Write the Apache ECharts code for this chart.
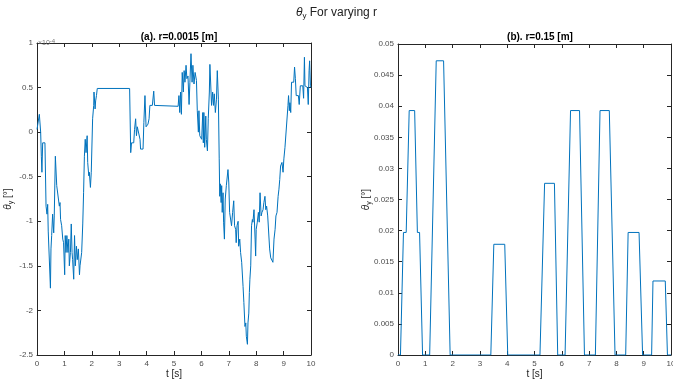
<!DOCTYPE html>
<html>
<head>
<meta charset="utf-8">
<script src="https://cdn.jsdelivr.net/npm/echarts@6/dist/echarts.min.js"></script>
<style>html,body{margin:0;padding:0;background:#fff}#c{width:673px;height:380px}</style>
</head>
<body>
<div id="c"></div>
<script>
// (a) r = 0.0015 m : time [s] and theta_y in units of 1e-4 deg
var tA = [0,0.02,0.06,0.085,0.12,0.134,0.158,0.18,0.207,0.29,0.33,0.365,0.39,0.41,0.45,0.49,0.51,0.535,0.57,0.61,0.63,0.67,0.72,0.78,0.815,0.84,0.86,0.9,0.94,0.97,1.01,1.03,1.06,1.09,1.13,1.16,1.18,1.22,1.25,1.28,1.30,1.34,1.37,1.4,1.44,1.47,1.51,1.55,1.57,1.61,1.63,1.67,1.70,1.73,1.76,1.79,1.83,1.85,1.89,1.91,1.95,1.98,2.03,2.07,2.08,2.12,2.14,2.17,2.2,3.38,3.42,3.45,3.53,3.56,3.6,3.63,3.66,3.72,3.76,3.78,3.87,3.9,3.94,3.98,4.05,4.09,4.12,4.21,4.26,4.29,4.33,5.15,5.18,5.21,5.24,5.27,5.3,5.34,5.37,5.4,5.44,5.47,5.51,5.55,5.58,5.62,5.66,5.69,5.73,5.77,5.82,5.85,5.89,5.91,5.94,5.97,6.01,6.05,6.07,6.09,6.12,6.16,6.18,6.22,6.25,6.29,6.31,6.34,6.37,6.41,6.44,6.47,6.51,6.55,6.58,6.62,6.65,6.67,6.69,6.72,6.74,6.76,6.79,6.81,6.84,6.87,6.91,6.97,7.0,7.03,7.07,7.1,7.14,7.18,7.21,7.25,7.27,7.3,7.34,7.36,7.4,7.43,7.47,7.52,7.55,7.59,7.62,7.64,7.68,7.7,7.73,7.75,7.77,7.8,7.83,7.86,7.88,7.92,7.96,7.98,8.0,8.04,8.08,8.11,8.14,8.18,8.21,8.25,8.28,8.32,8.35,8.38,8.42,8.46,8.49,8.53,8.61,8.65,8.69,8.72,8.76,8.8,8.83,8.86,8.89,8.94,8.98,9.01,9.05,9.12,9.16,9.18,9.21,9.23,9.26,9.29,9.37,9.4,9.43,9.46,9.54,9.57,9.61,9.7,9.73,9.76,9.78,9.87,9.9,9.93,9.95,9.98,10];
var vA = [0.03,0.015,0.015,0.2,0.18,0,-0.27,-0.45,-0.12,-0.12,-0.83,-0.92,-0.81,-1.11,-1.13,-1.75,-1.31,-1.16,-0.92,-1.13,-0.94,-0.27,-0.6,-0.6,-0.83,-0.79,-0.98,-1.05,-1.2,-1.24,-1.6,-1.16,-1.35,-1.16,-1.35,-1.2,-1.5,-1.35,-1.03,-1.35,-1.43,-1.65,-1.16,-1.5,-1.28,-1.43,-1.31,-1.6,-1.5,-1.5,-1.35,-1.03,-0.68,-0.27,-0.08,-0.23,-0.04,-0.34,-0.49,-0.45,-0.62,-0.45,0.15,0.3,0.45,0.26,0.35,0.41,0.49,0.49,-0.23,-0.12,-0.12,0.03,0.15,-0.04,0.06,0.06,-0.08,-0.19,-0.19,0.11,0.41,0.06,0.09,0.15,0.3,0.3,0.46,0.3,0.29,0.29,0.41,0.22,0.45,0.2,0.67,0.45,0.69,0.56,0.75,0.6,0.63,0.31,0.56,0.88,0.56,0.75,0.54,0.67,0.58,0.24,0,0.24,-0.04,-0.06,-0.08,0.22,-0.12,0.22,-0.17,0.18,-0.08,-0.21,0.15,0.45,0.76,0.54,0.3,0.45,0.3,0.43,0.22,0.37,0.69,0.37,-0.3,-0.72,-0.58,-0.79,-0.6,-0.9,-0.68,-1.01,-1.2,-0.75,-0.6,-0.42,-0.57,-0.9,-0.92,-1.05,-0.9,-0.77,-1.05,-1.09,-1.24,-1.05,-1.0,-1.28,-1.2,-1.35,-1.46,-1.73,-1.91,-2.18,-2.14,-2.29,-2.38,-2.14,-2.03,-1.8,-1.65,-1.5,-1.05,-0.98,-1.01,-0.87,-1.2,-1.39,-1.09,-1.01,-0.9,-1.01,-0.68,-0.94,-0.9,-0.87,-0.79,-0.72,-0.87,-0.83,-0.94,-0.94,-1.31,-1.41,-1.46,-1.2,-1.09,-0.94,-0.9,-0.72,-0.64,-0.53,-0.38,-0.34,-0.45,-0.3,-0.17,-0.17,0.3,0.41,0.24,0.33,0.22,0.56,0.56,0.73,0.6,0.41,0.41,0.31,0.52,0.52,0.38,0.84,0.52,0.5,0.31,0.69,0.8,0.52,0.5];

// (b) r = 0.15 m : time [s] and theta_y [deg]
var tB = [0,0.09,0.2,0.3,0.41,0.61,0.71,0.79,0.9,1.16,1.4,1.67,1.91,3.4,3.51,3.91,4.02,5.2,5.37,5.73,5.85,6.12,6.32,6.65,6.83,7.23,7.4,7.74,7.95,8.34,8.43,8.83,8.96,9.29,9.34,9.79,9.87,10];
var vB = [0,0,0.0197,0.0197,0.0393,0.0393,0.0197,0.0197,0,0,0.0473,0.0473,0,0,0.0178,0.0178,0,0,0.0276,0.0276,0,0,0.0393,0.0393,0,0,0.0393,0.0393,0,0,0.0197,0.0197,0,0,0.0119,0.0119,0,0];

var xTicks = [0,1,2,3,4,5,6,7,8,9,10];
var yTicksA = [-2.5,-2,-1.5,-1,-0.5,0,0.5,1];
var yTicksB = [0,0.005,0.01,0.015,0.02,0.025,0.03,0.035,0.04,0.045,0.05];

var mainTitle = 'For varying r';
var titleA = '(a). r=0.0015 [m]';
var titleB = '(b). r=0.15 [m]';
var xName = 't [s]';

var FONT = 'Liberation Sans';
var AX = '#262626';
var LBL = '#4d4d4d';
var BLUE = '#0072BD';

function zip(a, b){ var r=[]; for(var i=0;i<a.length;i++) r.push([a[i], b[i]]); return r; }

function xAxes(gi){
  return [{
    gridIndex: gi, type:'value', min:xTicks[0], max:xTicks[xTicks.length-1], interval:1, position:'bottom',
    name: xName, nameLocation:'middle', nameGap:14, nameMoveOverlap:false,
    nameTextStyle:{fontFamily:FONT, fontSize:10, color:'#222'},
    axisLine:{onZero:false, lineStyle:{color:AX, width:1}},
    axisTick:{inside:true, length:4, lineStyle:{color:AX}},
    axisLabel:{fontFamily:FONT, fontSize:8, color:LBL, margin:5},
    splitLine:{show:false}
  },{
    gridIndex: gi, type:'value', min:xTicks[0], max:xTicks[xTicks.length-1], interval:1, position:'top',
    axisLine:{onZero:false, lineStyle:{color:AX, width:1}},
    axisTick:{inside:true, length:4, lineStyle:{color:AX}},
    axisLabel:{show:false}, splitLine:{show:false}
  }];
}
function yAxes(gi, ticks, interval, gap, fmt){
  return [{
    gridIndex: gi, type:'value', min:ticks[0], max:ticks[ticks.length-1], interval:interval, position:'left',
    name:'{t|θ}{s|y}{u| [°]}', nameLocation:'middle', nameGap:gap, nameRotate:90, nameMoveOverlap:false,
    nameTextStyle:{rich:{t:{fontFamily:FONT, fontSize:10, color:'#222', fontStyle:'italic'}, s:{fontFamily:FONT, fontSize:7, color:'#222', padding:[6,0,0,0]}, u:{fontFamily:FONT, fontSize:10, color:'#222'}}},
    axisLine:{onZero:false, lineStyle:{color:AX, width:1}},
    axisTick:{inside:true, length:4, lineStyle:{color:AX}},
    axisLabel:{fontFamily:FONT, fontSize:8, color:LBL, margin:4, formatter:fmt},
    splitLine:{show:false}
  },{
    gridIndex: gi, type:'value', min:ticks[0], max:ticks[ticks.length-1], interval:interval, position:'right',
    axisLine:{onZero:false, lineStyle:{color:AX, width:1}},
    axisTick:{inside:true, length:4, lineStyle:{color:AX}},
    axisLabel:{show:false}, splitLine:{show:false}
  }];
}

var chart = echarts.init(document.getElementById('c'), null, {renderer:'canvas'});
chart.setOption({
  animation:false,
  backgroundColor:'#fff',
  title:[
    {text:'{g|θ}{s|y}{n| ' + mainTitle + '}', left:'center', top:0,
     textStyle:{fontWeight:'normal', rich:{g:{fontFamily:FONT, fontSize:12, color:'#222', fontStyle:'italic', fontWeight:'normal'}, s:{fontFamily:FONT, fontSize:8, color:'#222', padding:[7,0,0,0], fontWeight:'normal'}, n:{fontFamily:FONT, fontSize:12, color:'#222', fontWeight:'normal'}}}},
    {text:titleA, left:174, top:27, textAlign:'center', textStyle:{fontFamily:FONT, fontSize:10, color:'#000', fontWeight:'bold'}},
    {text:titleB, left:535, top:27, textAlign:'center', textStyle:{fontFamily:FONT, fontSize:10, color:'#000', fontWeight:'bold'}},
    {text:'{a|×10}{b|-4}', left:33, top:33, textStyle:{fontWeight:'normal', rich:{a:{fontFamily:FONT, fontSize:7, color:'#777', fontWeight:'normal'}, b:{fontFamily:FONT, fontSize:6, color:'#777', padding:[0,0,5,0], fontWeight:'normal'}}}}
  ],
  grid:[
    {left:37, top:43, width:274, height:312, outerBoundsMode:'none', containLabel:false},
    {left:398, top:44, width:273, height:311, outerBoundsMode:'none', containLabel:false}
  ],
  xAxis: xAxes(0).concat(xAxes(1)),
  yAxis: yAxes(0, yTicksA, 0.5, 22, function(v){return String(Math.round(v*10)/10);})
          .concat(yAxes(1, yTicksB, 0.005, 25, function(v){return String(Math.round(v*1000)/1000);})),
  series:[
    {type:'line', xAxisIndex:0, yAxisIndex:0, data:zip(tA, vA), showSymbol:false, symbol:'none',
     lineStyle:{color:BLUE, width:1}, clip:true},
    {type:'line', xAxisIndex:2, yAxisIndex:2, data:zip(tB, vB), showSymbol:false, symbol:'none',
     lineStyle:{color:BLUE, width:1}, clip:true}
  ]
});
</script>
</body>
</html>
